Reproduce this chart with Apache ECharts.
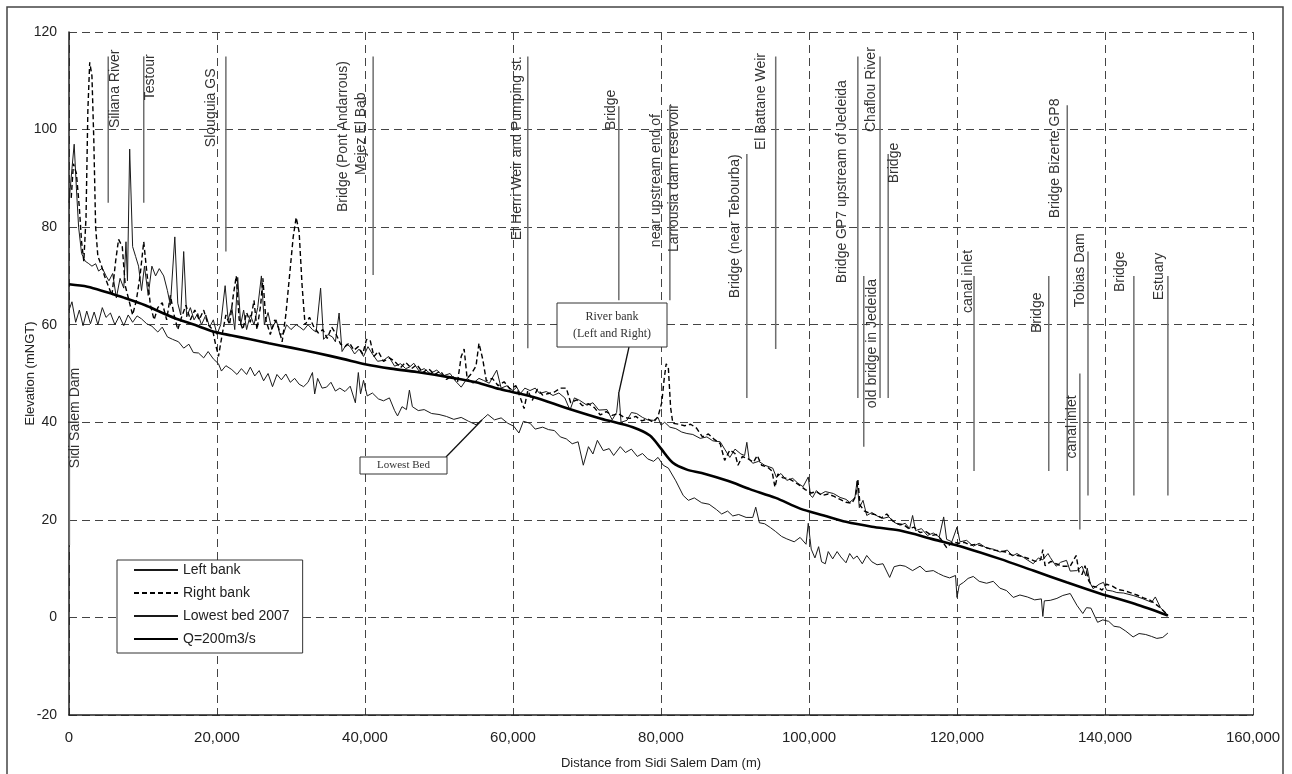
<!DOCTYPE html>
<html>
<head>
<meta charset="utf-8">
<script src="https://cdn.jsdelivr.net/npm/echarts@6/dist/echarts.min.js"></script>
<style>
html,body{margin:0;padding:0;background:#fff;}
#chart{width:1292px;height:774px;}
</style>
</head>
<body>
<div id="chart"></div>
<script>
// Distances are in km along the river (axis labels show metres), elevations in mNGT
const xTicks = [0, 20, 40, 60, 80, 100, 120, 140, 160];
const yTicks = [-20, 0, 20, 40, 60, 80, 100, 120];

const seriesNames = ['Left bank', 'Right bank', 'Lowest bed 2007', 'Q=200m3/s'];

const leftBank = [
[0,85],[0.4,92],[0.7,97],[1.0,88],[1.3,80],[1.7,74.6],[2.2,73],[2.6,72.6],[3.1,72],[3.6,72.5],[4.0,71],[4.5,71.6],[5.0,70],[5.4,69],[5.9,70.5],[6.4,65.5],[6.9,69.5],[7.4,67.5],[7.7,77],[7.9,69],[8.2,96],[8.6,76],[9.0,74],[9.4,72],[9.8,67],[10.2,72],[10.7,66],[11.2,72],[11.7,70],[12.2,71.5],[12.8,70],[13.3,67],[13.7,64],[14.3,78],[14.7,64.4],[15.1,62],[15.5,75],[15.9,61.6],[16.4,63.5],[16.9,61],[17.4,62.3],[17.9,60],[18.5,62],[19.0,59.5],[19.5,61],[20.0,58],[20.5,60],[21.1,68],[21.5,61],[22.0,63.6],[22.4,59],[22.8,69.7],[23.2,60],[23.6,63],[24.0,59],[24.5,62],[25.0,60],[25.5,63.5],[26.0,70],[26.4,60],[26.9,62.5],[27.4,59],[28.0,61],[28.5,58],[29.0,58.2],[29.4,60],[30.0,59],[30.7,60],[31.2,59.5],[31.7,58.9],[32.3,60],[32.9,59],[33.4,58.5],[34.0,67.5],[34.4,57],[35.0,58],[35.6,57.5],[36.0,56.5],[36.5,62.4],[36.9,54.5],[37.5,56],[38.0,55.5],[38.6,54],[39.2,55],[39.8,53.5],[40.4,55.5],[41.0,54],[41.7,52.5],[42.5,52.7],[43.2,53.5],[44.0,51.5],[44.8,52],[45.5,51],[46.0,51.3],[46.6,52.1],[47.3,50.5],[48.0,51],[48.8,50],[49.7,50.7],[50.5,49.5],[51.5,50],[52.2,48.5],[53.0,47.2],[53.8,49],[54.6,48],[55.4,49],[56.0,48.6],[56.8,48],[57.8,50.7],[58.4,47],[59.2,47.5],[60.0,46.5],[60.5,47.2],[61.0,45.9],[61.6,47],[62.3,46.5],[63.0,47],[63.6,45.9],[64.5,46.3],[65.4,45.5],[66.2,46],[67.0,45],[67.7,42.5],[68.3,45],[69.0,44.5],[70.0,43.5],[70.8,44],[71.6,42.5],[72.7,42.6],[73.4,40.5],[74.0,42],[74.3,46.2],[74.6,40],[75.4,40.4],[76.0,42],[76.7,41.8],[77.5,41],[78.2,40.5],[79.0,40.4],[79.6,41],[80.0,39.4],[80.5,40],[81.2,39],[82.0,38.7],[82.8,38],[83.5,37.7],[84.3,37.5],[85.3,36.7],[86.2,37],[87.0,36.2],[88.0,36],[88.6,34.5],[89.3,32.8],[90.0,34.5],[90.8,33.5],[91.3,33.2],[91.6,35.9],[91.9,32.5],[92.4,31.6],[93.2,32],[94.0,31.2],[95.1,30.6],[95.6,28.7],[96.2,29.5],[97.0,28.1],[97.8,28.5],[98.5,27.5],[99.2,26.8],[99.9,28.8],[100.2,25],[100.5,24.6],[101.0,26],[101.5,25.2],[102.2,25.8],[103.3,25.4],[104.2,24.6],[105.0,24.2],[105.5,23.6],[106.2,24.5],[106.5,28],[106.8,22.5],[107.3,24],[107.8,20.9],[108.5,21.5],[109.2,20.8],[110.0,20.3],[110.8,20.6],[111.5,19.5],[112.3,18.9],[113.0,19.3],[113.6,18.2],[114.0,20.9],[114.4,17.8],[115.2,18.2],[116.0,16.8],[116.8,17.3],[117.6,16.5],[118.2,20.6],[118.6,16],[119.3,15.5],[120.0,18.5],[120.4,15.5],[121.3,15.8],[122.2,14.6],[123.0,15.2],[124.0,14.2],[124.9,14],[125.8,13.4],[126.8,13.8],[127.5,12.6],[128.1,13.1],[129.0,12.3],[130.3,11],[131.0,12.2],[131.6,11.8],[132.3,13.1],[132.6,12.3],[133.4,10.5],[134.0,11.3],[134.8,11.7],[135.3,9.5],[136.2,9.6],[136.9,10.5],[137.4,8.5],[137.6,10.1],[138.0,7],[138.4,5.9],[139.2,6.8],[139.8,7.2],[140.2,5.6],[141.0,5.4],[141.6,5.1],[142.5,5],[143.8,4.5],[145.0,3.9],[146.3,3.1],[146.8,4.2],[147.5,2],[148.5,0.4]
];

const rightBank = [
[0.3,86],[0.6,93],[1.0,91],[1.4,84],[1.7,77],[2.0,73],[2.3,82],[2.55,104],[2.8,113.8],[3.1,111],[3.35,98],[3.6,80],[3.9,74],[4.3,72.5],[4.8,70],[5.3,68],[5.8,66],[6.3,73],[6.7,77.5],[7.2,76],[7.6,68],[8.1,65],[8.6,62],[9.1,65],[9.6,70],[10.1,77],[10.5,71],[11.0,64],[11.5,61],[12.0,63.5],[12.6,64.5],[13.2,61],[13.7,66],[14.2,62],[14.7,59],[15.2,61.5],[15.8,64],[16.4,61],[17.0,63],[17.6,61],[18.2,63],[18.8,60],[19.4,59],[19.8,56],[20.2,53.5],[20.7,58],[21.2,62],[21.7,60],[22.2,66],[22.6,70],[23.0,61],[23.5,59],[24.0,62.5],[24.5,60.5],[25.0,65],[25.4,59],[25.9,64],[26.2,69.5],[26.6,61],[27.2,58],[27.8,61],[28.3,59.5],[28.8,56.5],[29.3,62],[29.8,70],[30.3,78],[30.7,82],[31.1,79],[31.5,68],[31.9,60],[32.5,61.5],[33.1,59.5],[33.7,58.3],[34.3,59],[34.9,57.2],[35.5,59.5],[36.1,58],[36.7,56],[37.3,55.5],[37.9,56.3],[38.5,54.8],[39.1,55.5],[39.7,54],[40.2,57],[40.7,56.8],[41.2,53.5],[41.8,54.5],[42.5,52.5],[43.3,53.2],[44.0,52.5],[44.8,51.2],[45.5,52.3],[46.3,51],[47.0,51.8],[47.8,50.2],[48.6,51],[49.4,49.8],[50.2,50.5],[51.0,48.8],[51.8,49.5],[52.5,48.2],[53.0,53.5],[53.4,55],[53.8,49],[54.4,50],[55.0,51.5],[55.4,56.2],[55.9,53],[56.4,48.5],[57.2,49],[58.0,47.5],[58.8,48.3],[59.6,46.8],[60.4,47.5],[61.0,45],[61.5,42.8],[62.0,46.5],[62.6,44.5],[63.3,46.8],[64.0,45.6],[64.8,45.9],[65.6,46.2],[66.4,47],[67.2,47],[67.8,44],[68.6,44.6],[69.4,43.4],[70.2,43.8],[71.0,43],[71.8,41.5],[72.6,42.2],[73.4,41.4],[74.2,41.8],[75.0,41],[75.8,40.8],[76.6,41.2],[77.4,40.3],[78.2,40.7],[79.0,40],[79.6,41.2],[80.1,44],[80.4,48.5],[80.7,52],[81.0,51],[81.3,43],[81.6,39.8],[82.4,39.6],[83.2,39.3],[84.0,39.6],[84.8,38.8],[85.6,37],[86.4,37.6],[87.2,36.5],[88.0,35.6],[88.6,32.2],[89.3,34.3],[90.0,33.6],[90.4,31.2],[91.0,33],[91.8,32.5],[92.5,31.8],[93.0,33.2],[93.6,31.2],[94.4,30.8],[95.0,30],[95.4,26.7],[95.8,29.4],[96.5,28.6],[97.2,28.5],[98.0,27.8],[98.8,27],[99.5,26.2],[100.3,25.5],[101.0,25.8],[101.8,25],[102.6,25.3],[103.4,24.8],[104.2,24.2],[105.0,23.6],[105.8,23.4],[106.3,24.8],[106.6,28.3],[106.9,23],[107.5,21.8],[108.3,21.3],[109.1,21],[109.8,20.4],[110.5,21.2],[111.3,19.8],[112.0,19.2],[112.8,19],[113.5,18.2],[114.2,18.5],[115.0,17.4],[115.8,17.6],[116.6,16.8],[117.2,17],[117.8,16.1],[118.6,14.3],[119.4,15.5],[120.2,15.2],[121.0,15.4],[121.8,14.8],[122.6,15],[123.4,14.6],[124.2,14.2],[125.0,13.8],[125.8,13.6],[126.6,13.4],[127.4,12.8],[128.2,12.7],[129.0,12.4],[129.8,12],[130.6,11.5],[131.3,11.8],[131.6,13.9],[131.9,10.6],[132.7,11.5],[133.4,11],[134.2,10.5],[135.3,10.5],[136.1,12.7],[136.5,9.2],[136.9,8.8],[137.3,10.6],[137.8,7.5],[138.3,6.4],[139.0,6.2],[139.6,5.6],[140.2,6.8],[141.0,6.4],[141.8,5.7],[142.6,5.5],[143.4,5.1],[144.3,4.6],[145.2,4],[146.0,3.6],[146.8,2.8],[147.6,1.8],[148.5,0.5]
];

const lowestBed = [
[0,63],[0.4,64.7],[0.9,60.5],[1.4,63],[1.9,59.8],[2.4,62.8],[2.9,60.2],[3.4,62.6],[3.9,60],[4.5,63.5],[5.0,61.5],[5.6,62.4],[6.2,60],[6.8,61.8],[7.4,59.8],[8.0,62],[8.6,60.5],[9.2,61.8],[9.8,61.2],[10.5,60.2],[11.2,59.7],[12.0,58.5],[12.6,59.5],[13.3,57.5],[14.0,57],[14.8,56.5],[15.5,55.2],[16.2,56],[16.8,54.3],[17.5,54.2],[18.2,53.2],[18.8,54.5],[19.5,53],[20.2,52],[20.6,50.5],[21.2,51.6],[22.0,50.8],[22.7,49.8],[23.3,51],[24.0,49.8],[24.5,51.3],[25.1,49.5],[25.7,50.6],[26.3,48.5],[26.9,50],[27.5,47.3],[28.1,49.8],[28.7,48.7],[29.3,49.9],[29.9,48.2],[30.5,49],[31.1,47.8],[31.7,47.3],[32.3,48.2],[32.9,50.2],[33.2,45.8],[33.6,49],[34.2,47],[34.8,47.2],[35.4,48.2],[36.0,46.4],[36.6,47],[37.3,46.3],[38.0,47.4],[38.7,44],[39.1,50.2],[39.4,45.8],[39.8,48.6],[40.3,45.4],[41.0,46],[41.8,44.8],[42.5,44.4],[43.3,45],[44.0,42.4],[44.4,41.3],[45.0,43.2],[45.6,42.6],[46.0,46.6],[46.4,43.2],[47.2,42.4],[48.0,42.6],[49.0,41.8],[50.0,41.6],[51.0,41.2],[52.0,40.6],[53.0,41],[54.0,40.2],[55.0,39.5],[55.8,40.5],[56.6,41.6],[57.5,40.5],[58.4,40.9],[59.3,39.8],[60.1,39.2],[60.8,37.8],[61.4,40.2],[62.3,39.8],[63.0,38.6],[64.0,39],[64.8,38.5],[65.6,38.3],[66.4,37],[67.2,36.6],[68.0,35.6],[68.8,36],[69.5,31.2],[70.2,35],[70.8,33.5],[71.4,36.3],[72.2,34.2],[73.0,34.6],[73.6,33.2],[74.5,35],[75.2,33.8],[76.0,34.5],[76.8,33],[77.5,33.6],[78.2,32.5],[79.0,32],[79.6,32.8],[80.3,31.2],[81.0,30.6],[82.0,28],[83.0,25],[83.7,24],[84.5,24.5],[85.5,23.5],[86.5,23.2],[87.5,22.1],[88.2,21.2],[89.0,21.8],[89.7,20.8],[90.5,21.1],[91.5,20.5],[92.4,20.5],[92.8,22.6],[93.3,19.4],[94.0,19.2],[94.8,18.4],[95.5,17.6],[96.3,16.6],[97.0,16.1],[98.0,15.5],[98.8,16.4],[99.6,15],[99.9,19.3],[100.3,14],[100.8,12.2],[101.3,14.5],[101.7,11.4],[102.2,11],[102.6,13.5],[103.2,12],[103.8,13.5],[104.3,12.4],[105.0,11.2],[105.5,13.1],[106.0,12],[106.5,12.6],[107.2,11],[107.8,12.7],[108.5,11.4],[109.2,10.8],[110.0,11],[110.9,8.2],[111.5,10.4],[112.3,10.7],[113.0,10.5],[114.0,9.6],[115.0,10.5],[115.8,9.4],[116.8,9.6],[117.5,9],[118.2,8.5],[119.0,8.1],[119.8,8.6],[120.0,4.1],[120.3,6.6],[120.9,7.2],[121.5,8],[122.2,8.4],[123.0,7.4],[124.0,7],[124.9,7.4],[125.8,6],[126.7,5.5],[127.6,4.1],[128.5,4.6],[129.5,4.2],[130.5,3.6],[131.4,3.8],[131.6,0.2],[131.8,3.4],[132.6,3.5],[133.5,3.9],[134.3,4.5],[135.3,4.9],[136.2,2.5],[137.0,0.8],[137.5,2],[138.1,1.9],[139.0,-1],[139.7,-0.5],[140.5,-0.8],[141.2,-1.8],[142.0,-2],[142.8,-2.8],[143.8,-4],[144.6,-3.3],[145.5,-3.5],[146.3,-3.9],[147.0,-4.3],[147.8,-4.1],[148.5,-3.2]
];

const q200 = [
[0,68.3],[2.5,67.8],[5.0,66.7],[7.5,65.5],[10.3,64],[12.5,62.5],[14.9,61],[17.5,59.7],[19.7,58.5],[22.0,57.8],[24.5,57.0],[27.0,56.2],[30.0,55.3],[33.5,54.2],[37.0,53],[40.0,51.9],[43.5,51],[47.0,50.3],[51.5,49.2],[55.0,48.2],[58.2,46.8],[62.7,45.2],[67.3,42.9],[71.8,40.8],[76.2,39.0],[78.5,37.3],[79.9,34.8],[81.6,31.7],[83.5,30.3],[85.5,29.6],[89.0,28.0],[92.0,26.3],[95.5,24.5],[98.8,22.3],[102.0,20.9],[105.0,19.6],[108.5,18.6],[112.3,17.8],[116.8,16],[121.3,14.2],[125.8,12],[130.3,9.6],[134.8,7.2],[139.3,4.9],[144.0,2.8],[148.5,0.4]
];

// landmarks: [distance km, line bottom, line top, label start elevation]
const landmarkNames = ['Sidi Salem Dam','Siliana River','Testour','Slouguia GS','Bridge (Pont Andarrous)','Mejez El Bab','El Herri Weir and Pumping st.','Bridge','near upstream end of','Larrousia dam reservoir','Bridge (near Tebourba)','El Battane Weir','Bridge GP7 upstream of Jedeida','old bridge in Jedeida','Chaflou River','Bridge','canal inlet','Bridge','Bridge Bizerte GP8','canal inlet','Tobias Dam','Bridge','Estuary'];
const landmarks = [
[0.05,14.8,55.2,30.6],[5.3,85,115,100.3],[10.1,85,115,106],[21.2,75,115,96.4],[41.1,83,83,83.1],[41.1,70.2,115,90.7],[62.0,55.2,115,77.3],[74.3,65,104.8,99.9],[81.2,65,105,75.9],[81.2,75,75,74.9],[91.6,45,95,65.4],[95.5,55,115,95.8],[106.6,45,115,68.5],[107.4,35,70,42.9],[109.6,45,115,99.5],[110.7,45,95,89],[122.3,30,70,62.4],[132.4,30,70,58.3],[134.9,30,105,81.8],[136.6,18,50,32.6],[137.7,25,75,63.6],[143.9,25,70,66.7],[148.5,25,70,65]
];
// label pixel offsets (layout only)
const labelDx = [6,7,6,-15,-30,-11.5,-11,-8,-14,4.5,-12,-15,-15.5,8,-9,6,-5.5,-11.5,-12,-7.5,-8,-14,-9];

const FONT = '"Liberation Sans", Arial, sans-serif';
const chart = echarts.init(document.getElementById('chart'), null, {renderer:'canvas'});

const gridLine = {show:true, lineStyle:{color:'#444', type:[8,5], width:1}};
const noSymbol = {color:'rgba(0,0,0,0)'};

chart.setOption({
  animation:false,
  backgroundColor:'#fff',
  textStyle:{fontFamily:FONT},
  grid:{left:69, right:39, top:32, bottom:59, containLabel:false, outerBoundsMode:'none'},
  legend:{
    data:seriesNames, orient:'vertical', left:117, top:560,
    itemWidth:44, itemHeight:14, itemGap:9, padding:[3,13,7,16],
    backgroundColor:'#fff', borderColor:'#333', borderWidth:1, borderRadius:0,
    selectedMode:false,
    itemStyle:{opacity:0},
    textStyle:{fontSize:14, color:'#222', fontFamily:FONT}
  },
  xAxis:{
    type:'value', min:xTicks[0], max:xTicks[xTicks.length-1], interval:20,
    name:'Distance from Sidi Salem Dam (m)', nameLocation:'middle', nameGap:42,
    nameMoveOverlap:false,
    nameTextStyle:{fontSize:13, color:'#222', fontFamily:FONT},
    axisLine:{show:true, onZero:false, lineStyle:{color:'#222', width:1.5}},
    axisTick:{show:false},
    axisLabel:{color:'#222', fontSize:15, margin:15, fontFamily:FONT,
      formatter:v => (v*1000).toLocaleString('en-US')},
    splitLine:gridLine
  },
  yAxis:{
    type:'value', min:yTicks[0], max:yTicks[yTicks.length-1], interval:20,
    name:'Elevation (mNGT)', nameLocation:'middle', nameGap:32, nameRotate:90,
    nameMoveOverlap:false,
    nameTextStyle:{fontSize:13, color:'#222', fontFamily:FONT},
    axisLine:{show:true, onZero:false, lineStyle:{color:'#222', width:1.5}},
    axisTick:{show:false},
    axisLabel:{color:'#222', fontSize:14, margin:12, fontFamily:FONT},
    splitLine:gridLine
  },
  series:[
    {name:seriesNames[0], type:'line', data:leftBank, symbol:'none', z:3, itemStyle:noSymbol,
     lineStyle:{color:'#1a1a1a', width:1}},
    {name:seriesNames[1], type:'line', data:rightBank, symbol:'none', z:4, itemStyle:noSymbol,
     lineStyle:{color:'#000', width:1.4, type:[5,3]}},
    {name:seriesNames[2], type:'line', data:lowestBed, symbol:'none', z:3, itemStyle:noSymbol,
     lineStyle:{color:'#1a1a1a', width:1}},
    {name:seriesNames[3], type:'line', data:q200, symbol:'none', z:5, smooth:0.3, itemStyle:noSymbol,
     lineStyle:{color:'#000', width:2.6}},
    {name:'landmarks', type:'custom', data:landmarks, silent:true, z:2, clip:false,
     encode:{x:0, y:[1,2]},
     renderItem:function(params, api){
       const i = params.dataIndex;
       const x = api.value(0), lo = api.value(1), hi = api.value(2), ly = api.value(3);
       const p1 = api.coord([x, lo]), p2 = api.coord([x, hi]), pl = api.coord([x, ly]);
       const children = [];
       if (hi > lo) {
         children.push({type:'line', shape:{x1:p1[0], y1:p1[1], x2:p2[0], y2:p2[1]},
           style:{stroke:'#6e6e6e', lineWidth:1.5}});
       }
       children.push({type:'text', x:pl[0] + labelDx[i], y:pl[1], rotation:Math.PI/2,
         style:{text:landmarkNames[i], fill:'#333', font:'14px ' + FONT,
           align:'left', verticalAlign:'middle'}});
       return {type:'group', children:children};
     }}
  ],
  graphic:[
    {type:'rect', shape:{x:7, y:7, width:1276, height:780}, style:{fill:'none', stroke:'#444', lineWidth:1.5}, silent:true},
    {type:'line', shape:{x1:629, y1:347, x2:619, y2:392}, style:{stroke:'#111', lineWidth:1.3}, z:20},
    {type:'rect', shape:{x:557, y:303, width:110, height:44}, style:{fill:'#fff', stroke:'#333', lineWidth:1}, z:20},
    {type:'text', x:612, y:325, z:21, style:{text:'River bank\n(Left and Right)', align:'center', verticalAlign:'middle',
      font:'12px "Liberation Serif", "Times New Roman", serif', lineHeight:17, fill:'#333'}},
    {type:'line', shape:{x1:446, y1:457, x2:482, y2:420}, style:{stroke:'#111', lineWidth:1.3}, z:20},
    {type:'rect', shape:{x:360, y:457, width:87, height:17}, style:{fill:'#fff', stroke:'#333', lineWidth:1}, z:20},
    {type:'text', x:403.5, y:465.5, z:21, style:{text:'Lowest Bed', align:'center', verticalAlign:'middle',
      font:'11px "Liberation Serif", "Times New Roman", serif', fill:'#333'}}
  ]
});
</script>
</body>
</html>
